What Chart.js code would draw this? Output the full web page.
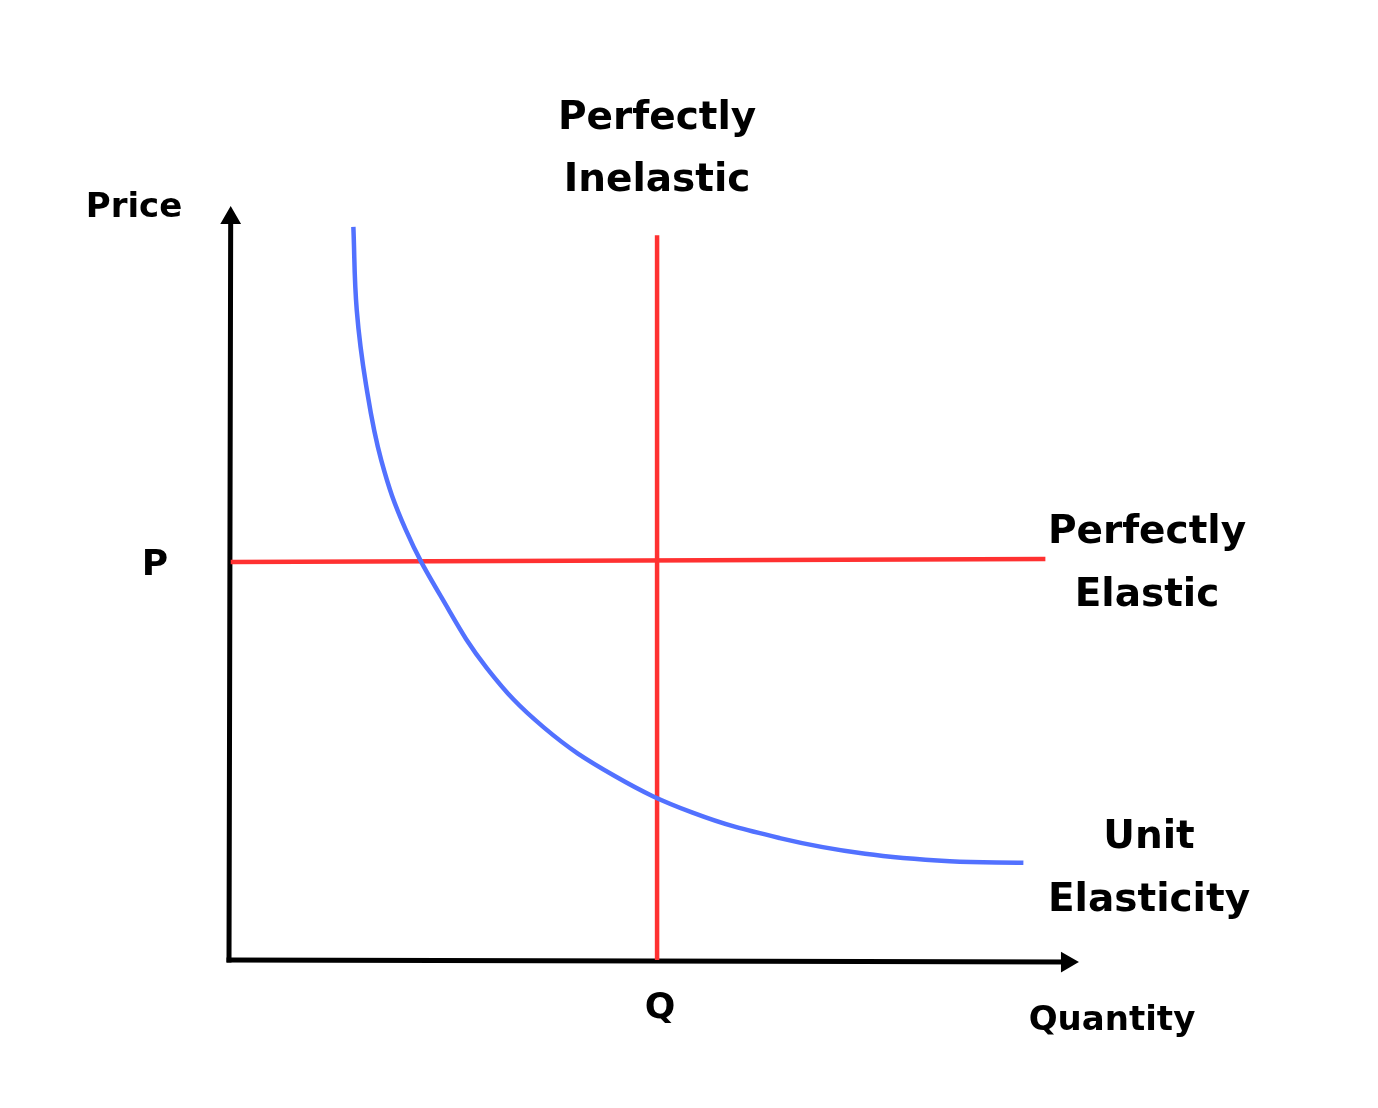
<!DOCTYPE html>
<html>
<head>
<meta charset="utf-8">
<title>Price elasticity of demand</title>
<script src="https://cdn.jsdelivr.net/npm/chart.js@4.4.1/dist/chart.umd.min.js"></script>
<style>
  html, body { margin: 0; padding: 0; background: #ffffff; }
  #wrap { width: 1378px; height: 1108px; position: relative; }
</style>
</head>
<body>
<div id="wrap"><canvas id="chart"></canvas></div>
<script>
'use strict';

// ─── Data (quantity / price in chart units, axes run 0..10) ────────────────
const curveQty   = [1.47, 1.51, 1.62, 1.80, 2.09, 2.51, 3.05, 3.72, 4.56, 5.48, 6.51, 7.52, 8.52, 9.39];
const curvePrice = [9.80, 8.69, 7.69, 6.68, 5.75, 4.85, 3.90, 3.11, 2.46, 1.97, 1.63, 1.42, 1.32, 1.30];

const elasticQty   = [0.02, 9.65];   // perfectly elastic (horizontal at P)
const elasticPrice = [5.32, 5.36];
const inelasticQty   = [5.06, 5.06]; // perfectly inelastic (vertical at Q)
const inelasticPrice = [0, 9.69];

const yAxisQty = [0, 0.02],  yAxisPrice = [0, 9.92];
const xAxisQty = [0, 9.905], xAxisPrice = [0, -0.027];

const tickP = 5.32, tickQ = 5.06;

const RED  = '#ff3131';
const BLUE = '#5271ff';
const FONT = '"DejaVu Sans", sans-serif';

const pts = (xs, ys) => xs.map((x, i) => ({ x, y: ys[i] }));

// ─── Labels drawn against the scales ───────────────────────────────────────
const labelsPlugin = {
  id: 'labels',
  afterDatasetsDraw(chart) {
    const { ctx, scales: { x, y } } = chart;
    ctx.save();
    ctx.fillStyle = '#000';
    ctx.textAlign = 'center';
    ctx.textBaseline = 'alphabetic';
    const txt = (s, px, py, size) => {
      ctx.font = `bold ${size}px ${FONT}`;
      ctx.fillText(s, px, py);
    };
    // tick labels
    txt('P', x.left - 74, y.getPixelForValue(tickP) + 13, 36);
    txt('Q', x.getPixelForValue(tickQ) + 3, y.bottom + 58, 36);
    // axis titles
    txt('Price', x.left - 95, y.top + 5, 34);
    txt('Quantity', x.right + 37, y.bottom + 70, 34);
    // curve names
    const cx = x.getPixelForValue(inelasticQty[0]);
    txt('Perfectly', cx, 129, 39);
    txt('Inelastic', cx, 191, 39);
    txt('Perfectly', 1147, 543, 39);
    txt('Elastic', 1147, 606, 39);
    txt('Unit', 1149, 848, 39);
    txt('Elasticity', 1149, 911, 39);
    ctx.restore();
  }
};

new Chart(document.getElementById('chart'), {
  type: 'line',
  data: {
    datasets: [
      {
        label: 'Unit Elasticity',
        data: pts(curveQty, curvePrice),
        borderColor: BLUE, borderWidth: 4.5,
        pointRadius: 0, tension: 0.4,
      },
      {
        label: 'Perfectly Elastic',
        data: pts(elasticQty, elasticPrice),
        borderColor: RED, borderWidth: 4.5, pointRadius: 0,
      },
      {
        label: 'Perfectly Inelastic',
        data: pts(inelasticQty, inelasticPrice),
        borderColor: RED, borderWidth: 4.5, pointRadius: 0,
      },
      {
        label: 'Price axis',
        data: pts(yAxisQty, yAxisPrice),
        borderColor: '#000', backgroundColor: '#000', borderWidth: 5,
        pointStyle: 'triangle', pointRadius: [0, 9], pointBorderWidth: 3,
        pointRotation: 0, borderCapStyle: 'square',
      },
      {
        label: 'Quantity axis',
        data: pts(xAxisQty, xAxisPrice),
        borderColor: '#000', backgroundColor: '#000', borderWidth: 5,
        pointStyle: 'triangle', pointRadius: [0, 9], pointBorderWidth: 3,
        pointRotation: 90, borderCapStyle: 'square',
      },
    ],
  },
  options: {
    responsive: true, maintainAspectRatio: false,
    animation: false,
    clip: false,
    layout: { padding: { left: 229, right: 303, top: 212, bottom: 148 } },
    plugins: { legend: { display: false }, tooltip: { enabled: false } },
    elements: { line: { borderJoinStyle: 'round' }, point: { hoverRadius: 0 } },
    scales: {
      x: { type: 'linear', min: 0, max: 10, display: false },
      y: { type: 'linear', min: 0, max: 10, display: false },
    },
  },
  plugins: [labelsPlugin],
});
</script>
</body>
</html>
